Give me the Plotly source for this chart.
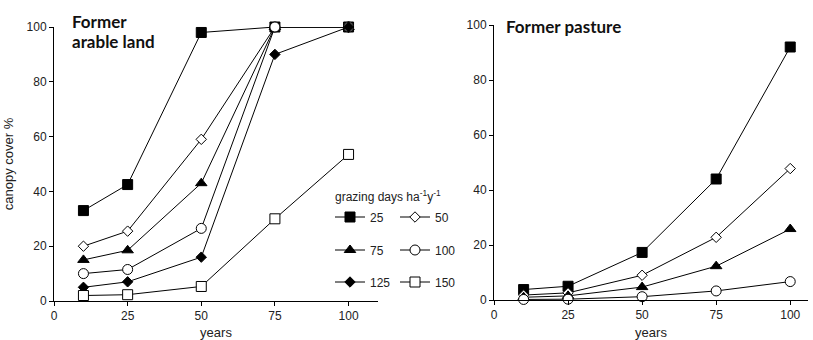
import plotly.graph_objects as go

years = [10, 25, 50, 75, 100]
grazing = ["25", "50", "75", "100", "125", "150"]

arable = {
    "25": [33, 42.5, 98, 100, 100],
    "50": [20, 25.5, 59, 100, 100],
    "75": [15, 18.5, 43, 100, 100],
    "100": [10, 11.5, 26.5, 100, 100],
    "125": [5, 7, 16, 90, 100],
    "150": [2, 2.3, 5.3, 30, 53.5],
}
pasture = {
    "25": [3.8, 5.0, 17.3, 44, 92],
    "50": [1.8, 2.6, 9.0, 22.8, 47.8],
    "75": [1.0, 1.5, 4.7, 12.3, 25.8],
    "100": [0.2, 0.3, 1.2, 3.3, 6.7],
}

styles = {
    "25": dict(symbol="square", size=10, fill="black"),
    "50": dict(symbol="diamond", size=8, fill="white"),
    "75": dict(symbol="triangle-up", size=10, fill="black"),
    "100": dict(symbol="circle", size=10, fill="white"),
    "125": dict(symbol="diamond", size=8, fill="black"),
    "150": dict(symbol="square", size=10, fill="white"),
}
legend_of = {"25": "legend", "50": "legend", "75": "legend2", "100": "legend2",
             "125": "legend3", "150": "legend3"}

fig = go.Figure()
for g in grazing:
    st = styles[g]
    fig.add_trace(go.Scatter(
        x=years, y=arable[g], mode="lines+markers", name=g,
        line=dict(color="black", width=1),
        marker=dict(symbol=st["symbol"], size=st["size"], color=st["fill"],
                    line=dict(color="black", width=1)),
        cliponaxis=False, xaxis="x", yaxis="y", legend=legend_of[g]))
for g, vals in pasture.items():
    st = styles[g]
    fig.add_trace(go.Scatter(
        x=years, y=vals, mode="lines+markers", name=g, showlegend=False,
        line=dict(color="black", width=1),
        marker=dict(symbol=st["symbol"], size=st["size"], color=st["fill"],
                    line=dict(color="black", width=1)),
        cliponaxis=False, xaxis="x2", yaxis="y2"))

FONT = "Arial, Liberation Sans, sans-serif"
axis_common = dict(showline=True, linecolor="black", linewidth=1, ticks="outside", ticklen=4,
                   tickcolor="black", showgrid=False, zeroline=False, automargin=False,
                   tickfont=dict(family=FONT, size=12, color="#222"))
leg_common = dict(orientation="h", x=330/813, xanchor="left", yanchor="middle",
                  entrywidth=20, entrywidthmode="pixels", itemwidth=30, bgcolor="rgba(0,0,0,0)",
                  font=dict(family=FONT, size=12, color="#222"))
fig.update_layout(
    width=813, height=340, margin=dict(l=0, r=0, t=0, b=0, autoexpand=False),
    plot_bgcolor="white", paper_bgcolor="white",
    font=dict(family=FONT),
    xaxis=dict(domain=[54/813, 378/813], range=[0, 110], tickvals=[0, 25, 50, 75, 100],
               anchor="y", title=dict(text="years", standoff=12,
                                      font=dict(family=FONT, size=13, color="#222")),
               **axis_common),
    yaxis=dict(domain=[(340-301)/340, (340-27)/340], range=[0, 100], tickvals=[0, 20, 40, 60, 80, 100],
               anchor="x", title=dict(text="canopy cover %", standoff=10,
                                      font=dict(family=FONT, size=13, color="#222")),
               **axis_common),
    xaxis2=dict(domain=[494/813, 808/813], range=[0, 106], tickvals=[0, 25, 50, 75, 100],
                anchor="y2", title=dict(text="years", standoff=12,
                                        font=dict(family=FONT, size=13, color="#222")),
                **axis_common),
    yaxis2=dict(domain=[(340-300)/340, (340-25)/340], range=[0, 100], tickvals=[0, 20, 40, 60, 80, 100],
                anchor="x2", **axis_common),
    legend=dict(y=1-217/340, **leg_common),
    legend2=dict(y=1-250/340, **leg_common),
    legend3=dict(y=1-282/340, **leg_common),
    annotations=[
        dict(text="grazing days ha<sup>-1</sup>y<sup>-1</sup>", x=333/813, y=1-196/340,
             xref="paper", yref="paper", xanchor="left", yanchor="middle", showarrow=False,
             font=dict(family=FONT, size=12, color="#222")),
        dict(text="<b>Former</b>", x=70/813, y=1-22/340, xref="paper", yref="paper",
             xanchor="left", yanchor="middle", align="left", showarrow=False,
             font=dict(family="Lato", size=17, color="#111")),
        dict(text="<b>arable land</b>", x=70/813, y=1-41/340, xref="paper", yref="paper",
             xanchor="left", yanchor="middle", align="left", showarrow=False,
             font=dict(family="Lato", size=17, color="#111")),
        dict(text="<b>Former pasture</b>", x=504/813, y=1-27/340, xref="paper", yref="paper",
             xanchor="left", yanchor="middle", align="left", showarrow=False,
             font=dict(family="Lato", size=17, color="#111")),
    ],
)
fig.write_html("out.html")
